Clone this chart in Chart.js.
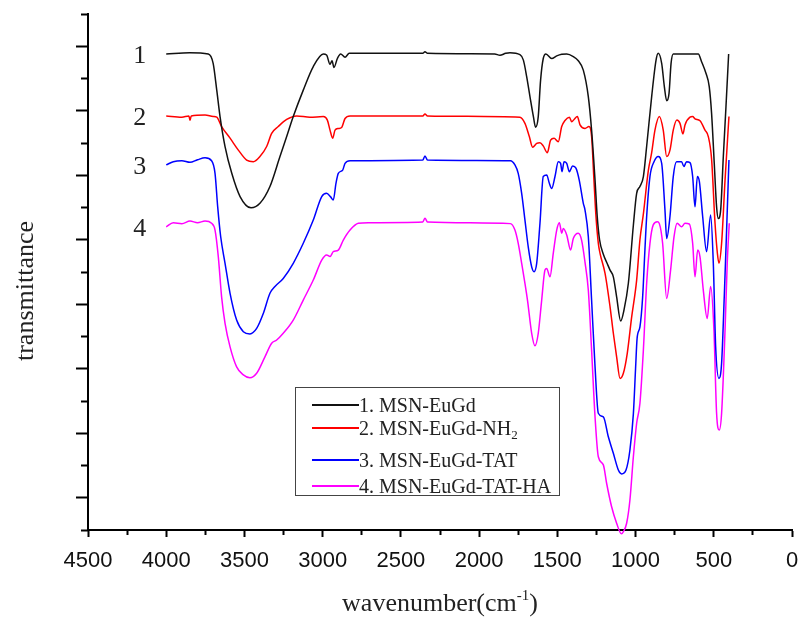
<!DOCTYPE html>
<html>
<head>
<meta charset="utf-8">
<script src="https://cdn.jsdelivr.net/npm/chart.js@4.4.1/dist/chart.umd.min.js"></script>
<style>
    body { margin: 0; background: #fff; }
    #wrap { position: relative; width: 801px; height: 622px; }
    #ytitle {
        position: absolute; left: -75px; top: 276px; width: 200px; height: 30px;
        line-height: 30px; text-align: center; transform: rotate(-90deg);
        font: 26px "Liberation Serif", serif; color: #222;
    }
    #xtitle {
        position: absolute; left: 240px; top: 588px; width: 400px; height: 30px;
        line-height: 30px; text-align: center;
        font: 26px "Liberation Serif", serif; color: #222;
    }
    #xtitle sup { font-size: 15px; vertical-align: 11px; line-height: 0; }
    #legend {
        position: absolute; left: 295px; top: 387px; width: 263px; height: 107px;
        border: 1px solid #444; background: #fff;
        font: 20px "Liberation Serif", serif; color: #222;
    }
    .row { position: absolute; left: 16px; height: 26px; display: flex; align-items: center; white-space: nowrap; }
    .row .ln { display: inline-block; width: 47px; height: 0; border-top: 2px solid; }
    .row sub { font-size: 13px; line-height: 0; position: relative; top: 7px; vertical-align: baseline; }
</style>
</head>
<body>
<div id="wrap">
    <canvas id="chart"></canvas>
    <div id="ytitle">transmittance</div>
    <div id="xtitle">wavenumber(cm<sup>-1</sup>)</div>
    <div id="legend"></div>
</div>
<script>
// Nomes e cores das amostras
const seriesNames = ['1. MSN-EuGd', '2. MSN-EuGd-NH<sub>2</sub>', '3. MSN-EuGd-TAT', '4. MSN-EuGd-TAT-HA'];
const seriesColors = ['#111111', '#ff0000', '#0000ff', '#ff00ff'];
const curveNumbers = ['1', '2', '3', '4'];

// Eixos
const xMajorTicks = [0, 500, 1000, 1500, 2000, 2500, 3000, 3500, 4000, 4500];
const xMinorTicks = [250, 750, 1250, 1750, 2250, 2750, 3250, 3750, 4250];
const yMajorTicks = [1, 3, 5, 7, 9, 11, 13, 15];
const yMinorTicks = [0, 2, 4, 6, 8, 10, 12, 14, 16];

// 1. MSN-EuGd
const wn1 = [4000, 3850, 3731, 3700, 3677, 3656, 3624, 3581, 3528, 3458, 3401, 3337, 3273, 3230, 3188, 3124, 3060, 2996, 2975, 2953, 2940, 2928, 2906, 2885, 2857, 2830, 2600, 2360, 2346, 2330, 1900, 1867, 1830, 1803, 1739, 1717, 1696, 1675, 1653, 1639, 1622, 1607, 1590, 1573, 1536, 1504, 1472, 1440, 1398, 1366, 1334, 1302, 1281, 1259, 1245, 1230, 1206, 1180, 1163, 1142, 1121, 1095, 1074, 1046, 1014, 993, 972, 950, 929, 897, 869, 855, 833, 816, 801, 786, 773, 759, 674, 599, 578, 550, 529, 514, 497, 482, 471, 456, 439, 422, 405];
const t1 = [14.76, 14.80, 14.76, 14.47, 13.64, 12.82, 11.89, 11.06, 10.34, 9.99, 10.13, 10.65, 11.58, 12.20, 12.82, 13.64, 14.37, 14.76, 14.73, 14.44, 14.55, 14.34, 14.62, 14.76, 14.66, 14.78, 14.78, 14.78, 14.83, 14.78, 14.76, 14.72, 14.78, 14.80, 14.74, 14.57, 14.06, 13.44, 12.82, 12.49, 12.82, 13.95, 14.62, 14.76, 14.62, 14.70, 14.75, 14.76, 14.68, 14.55, 14.26, 13.44, 12.40, 10.85, 9.72, 9.00, 8.55, 8.25, 8.06, 7.85, 7.23, 6.48, 6.82, 7.65, 9.45, 10.44, 10.65, 10.96, 11.90, 13.44, 14.57, 14.78, 14.47, 13.75, 13.31, 13.54, 14.47, 14.76, 14.76, 14.76, 14.52, 14.16, 13.75, 12.92, 11.37, 10.02, 9.66, 9.92, 11.58, 13.13, 14.76];

// 2. MSN-EuGd-NH2
const wn2 = [4000, 3900, 3855, 3848, 3840, 3752, 3700, 3677, 3646, 3592, 3539, 3486, 3443, 3401, 3358, 3326, 3284, 3230, 3166, 3081, 2996, 2970, 2953, 2936, 2921, 2900, 2879, 2857, 2825, 2360, 2346, 2330, 1739, 1707, 1679, 1658, 1632, 1611, 1590, 1564, 1543, 1521, 1494, 1472, 1451, 1423, 1408, 1393, 1372, 1355, 1323, 1298, 1281, 1266, 1253, 1238, 1227, 1195, 1163, 1142, 1121, 1099, 1078, 1053, 1025, 993, 972, 950, 918, 897, 876, 848, 823, 801, 780, 759, 736, 716, 697, 684, 652, 635, 620, 588, 556, 535, 514, 492, 477, 467, 450, 428, 403];
const t2 = [12.84, 12.80, 12.84, 12.70, 12.84, 12.87, 12.82, 12.80, 12.51, 12.15, 11.78, 11.47, 11.42, 11.58, 11.89, 12.30, 12.51, 12.73, 12.84, 12.80, 12.82, 12.71, 12.40, 12.15, 12.40, 12.45, 12.48, 12.76, 12.84, 12.84, 12.90, 12.84, 12.80, 12.61, 12.20, 11.87, 11.99, 12.01, 11.91, 11.70, 12.09, 12.15, 12.04, 12.51, 12.70, 12.80, 12.66, 12.73, 12.82, 12.56, 12.45, 12.51, 12.20, 10.85, 9.72, 8.89, 8.58, 7.96, 6.92, 6.10, 5.37, 4.70, 4.86, 5.48, 6.60, 7.75, 9.00, 9.80, 11.16, 11.70, 12.40, 12.82, 12.40, 11.58, 11.78, 12.40, 12.71, 12.61, 12.28, 12.56, 12.80, 12.82, 12.75, 12.69, 12.40, 12.20, 11.50, 9.51, 8.58, 8.27, 8.89, 10.85, 12.82];

// 3. MSN-EuGd-TAT
const wn3 = [4000, 3955, 3900, 3848, 3800, 3752, 3710, 3688, 3671, 3652, 3624, 3592, 3550, 3507, 3465, 3422, 3379, 3337, 3305, 3252, 3188, 3124, 3060, 3006, 2975, 2949, 2932, 2915, 2900, 2872, 2857, 2825, 2360, 2346, 2330, 1800, 1771, 1750, 1728, 1707, 1686, 1664, 1649, 1632, 1611, 1590, 1568, 1551, 1536, 1515, 1494, 1479, 1470, 1457, 1440, 1423, 1402, 1381, 1360, 1334, 1323, 1302, 1281, 1259, 1238, 1206, 1174, 1142, 1110, 1089, 1061, 1036, 1014, 1000, 990, 972, 955, 940, 929, 908, 882, 855, 833, 812, 801, 780, 759, 738, 706, 691, 674, 652, 635, 620, 605, 592, 571, 546, 520, 503, 488, 467, 450, 433, 418, 403];
const t3 = [11.32, 11.42, 11.45, 11.40, 11.48, 11.54, 11.45, 11.06, 10.02, 9.10, 8.27, 7.34, 6.51, 6.15, 6.08, 6.25, 6.72, 7.34, 7.55, 7.80, 8.27, 8.89, 9.61, 10.34, 10.44, 10.33, 10.23, 10.75, 11.06, 11.16, 11.37, 11.45, 11.47, 11.60, 11.47, 11.45, 11.32, 11.06, 10.44, 9.61, 8.78, 8.16, 8.01, 8.27, 9.51, 10.96, 11.01, 10.75, 10.59, 10.96, 11.42, 11.37, 11.11, 11.42, 11.37, 11.11, 11.29, 11.22, 10.85, 10.13, 9.92, 9.10, 7.13, 5.06, 3.62, 3.51, 2.89, 2.38, 1.86, 1.74, 1.86, 2.48, 3.60, 5.00, 5.95, 6.30, 7.20, 8.70, 9.72, 10.96, 11.42, 11.58, 11.37, 9.92, 9.04, 9.72, 10.96, 11.42, 11.42, 11.27, 11.42, 11.39, 10.96, 10.02, 10.96, 10.80, 9.72, 8.63, 9.77, 8.27, 5.68, 4.70, 5.17, 7.23, 9.30, 11.47];

// 4. MSN-EuGd-TAT-HA
const wn4 = [4000, 3955, 3900, 3848, 3800, 3752, 3710, 3688, 3667, 3646, 3624, 3592, 3550, 3507, 3465, 3422, 3369, 3326, 3294, 3252, 3188, 3124, 3060, 3006, 2975, 2953, 2932, 2900, 2868, 2825, 2772, 2708, 2360, 2346, 2330, 1800, 1771, 1750, 1728, 1707, 1690, 1664, 1643, 1622, 1600, 1579, 1568, 1547, 1526, 1504, 1487, 1472, 1462, 1440, 1415, 1398, 1366, 1345, 1323, 1302, 1281, 1259, 1238, 1206, 1185, 1153, 1121, 1090, 1078, 1057, 1036, 1014, 993, 972, 950, 929, 908, 887, 861, 848, 827, 801, 776, 754, 734, 706, 684, 657, 635, 620, 603, 588, 567, 542, 520, 499, 482, 465, 450, 428, 414, 401];
const t4 = [9.40, 9.53, 9.50, 9.58, 9.53, 9.58, 9.51, 9.30, 8.47, 7.23, 6.41, 5.68, 5.06, 4.81, 4.72, 4.86, 5.37, 5.79, 5.89, 6.10, 6.51, 7.13, 7.75, 8.37, 8.53, 8.48, 8.63, 8.68, 8.99, 9.30, 9.51, 9.53, 9.55, 9.67, 9.55, 9.50, 9.30, 8.89, 8.27, 7.65, 7.10, 6.10, 5.71, 6.10, 7.13, 8.06, 8.11, 7.85, 8.58, 9.30, 9.53, 9.20, 9.35, 9.15, 8.68, 9.04, 9.20, 8.99, 8.30, 7.44, 5.58, 3.51, 2.27, 2.02, 1.45, 0.72, 0.21, -0.12, -0.05, 0.21, 0.93, 2.27, 3.31, 3.93, 5.58, 7.65, 8.89, 9.46, 9.56, 9.50, 8.89, 7.18, 8.06, 9.10, 9.51, 9.40, 9.51, 9.49, 8.89, 7.85, 8.68, 8.47, 7.44, 6.56, 7.55, 6.20, 3.62, 3.10, 3.62, 6.20, 8.27, 9.51];

const allWn = [wn1, wn2, wn3, wn4];
const allT = [t1, t2, t3, t4];
const labelWavenumber = 4170;

// Legenda em HTML (caixa dentro do gráfico)
const legendBox = document.getElementById('legend');
const rowTops = [4, 27, 59, 85];
seriesNames.forEach((name, i) => {
    const row = document.createElement('div');
    row.className = 'row';
    row.style.top = rowTops[i] + 'px';
    row.innerHTML = `<span class="ln" style="border-color:${seriesColors[i]}"></span>${name}`;
    legendBox.appendChild(row);
});

// Números 1-4 ao lado de cada curva
const numberLabels = {
    id: 'numberLabels',
    afterDatasetsDraw(chart) {
        const { ctx, scales } = chart;
        ctx.save();
        ctx.font = '26px "Liberation Serif"';
        ctx.fillStyle = '#222';
        ctx.textAlign = 'center';
        ctx.textBaseline = 'middle';
        curveNumbers.forEach((n, i) => {
            ctx.fillText(n, scales.x.getPixelForValue(labelWavenumber), scales.y.getPixelForValue(allT[i][0]) + 2);
        });
        ctx.restore();
    }
};

function setTicks(list) {
    return axis => { axis.ticks = list.map(v => ({ value: v })); };
}

const tickFont = { family: 'Liberation Sans', size: 22 };

const datasets = allWn.map((wn, i) => ({
    label: seriesNames[i],
    data: wn.map((w, k) => ({ x: w, y: allT[i][k] })),
    borderColor: seriesColors[i],
    borderWidth: 1.5,
    pointRadius: 0,
    cubicInterpolationMode: 'monotone',
    clip: false,
    xAxisID: 'x',
    yAxisID: 'y'
}));

new Chart(document.getElementById('chart'), {
    type: 'line',
    data: { datasets },
    options: {
        responsive: true,
        maintainAspectRatio: false,
        animation: false,
        layout: { padding: { top: 14, right: 9, left: 0, bottom: 0 } },
        plugins: {
            legend: { display: false },
            tooltip: { enabled: false }
        },
        scales: {
            x: {
                type: 'linear', position: 'bottom', reverse: true, min: 0, max: 4500, weight: 1,
                afterBuildTicks: setTicks(xMajorTicks),
                afterFit: axis => { axis.height = 92; },
                grid: { drawOnChartArea: false, tickLength: 7, tickWidth: 2, tickColor: '#000' },
                border: { color: '#000', width: 2 },
                ticks: {
                    font: tickFont, color: '#111', padding: 11, maxRotation: 0, autoSkip: false,
                    callback: value => String(value)
                }
            },
            xMinor: {
                type: 'linear', position: 'bottom', reverse: true, min: 0, max: 4500, weight: 0,
                afterBuildTicks: setTicks(xMinorTicks),
                afterFit: axis => { axis.height = 0; },
                grid: { drawOnChartArea: false, tickLength: 5, tickWidth: 2, tickColor: '#000' },
                border: { display: false },
                ticks: { display: false }
            },
            y: {
                type: 'linear', position: 'left', min: 0, max: 16, weight: 1,
                afterBuildTicks: setTicks(yMajorTicks),
                afterFit: axis => { axis.width = 88; },
                grid: { drawOnChartArea: false, tickLength: 12, tickWidth: 2, tickColor: '#000' },
                border: { color: '#000', width: 2 },
                ticks: { display: false }
            },
            yMinor: {
                type: 'linear', position: 'left', min: 0, max: 16, weight: 0,
                afterBuildTicks: setTicks(yMinorTicks),
                afterFit: axis => { axis.width = 0; },
                grid: { drawOnChartArea: false, tickLength: 7, tickWidth: 2, tickColor: '#000' },
                border: { display: false },
                ticks: { display: false }
            }
        }
    },
    plugins: [numberLabels]
});
</script>
</body>
</html>
